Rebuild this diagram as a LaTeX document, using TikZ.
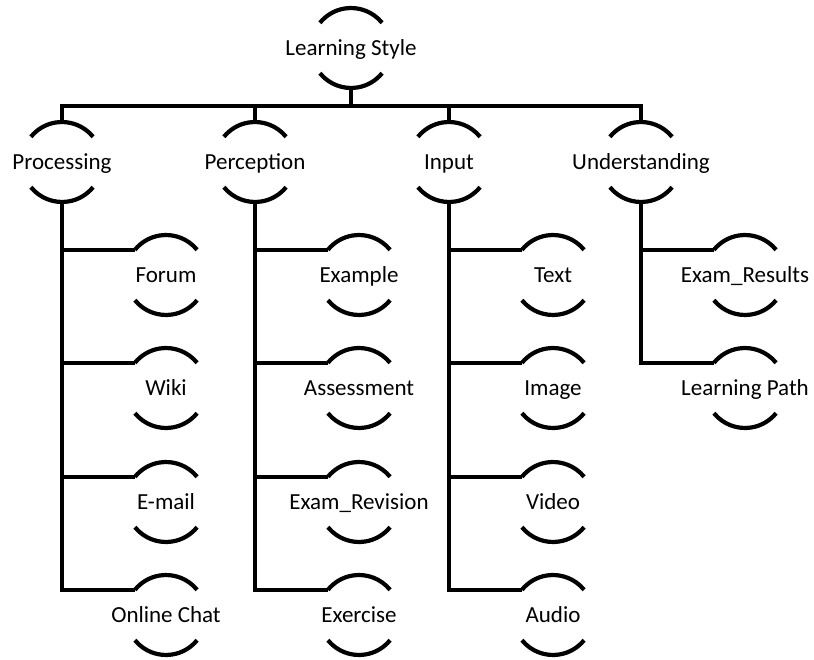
\documentclass[tikz,border=0pt]{standalone}
\usepackage{fontspec}
\setmainfont{Carlito}
\begin{document}
\begin{tikzpicture}[
		x=1pt,y=1pt,
		wire/.style={line width=4.5pt},
		cap arc/.style={line width=4.2pt},
		ls/.style={circle,minimum size=80pt,inner sep=0pt,outer sep=0pt,
			label={[font=\fontsize{23}{28}\selectfont,text height=17pt,text depth=2pt]center:#1}}]
		
		\useasboundingbox (0,0) rectangle (814,659);
		
		\node[ls={Learning Style}] (root) at (351,611) {};
		
		\node[ls=Processing]    (processing)    at ( 62,497) {};
		\node[ls=Perception]    (perception)    at (255,497) {};
		\node[ls=Input]         (input)         at (449,497) {};
		\node[ls=Understanding] (understanding) at (641,497) {};
		
		\node[ls=Forum]         (forum)    at (166,384) {};
		\node[ls=Wiki]          (wiki)     at (166,271) {};
		\node[ls=E-mail]        (email)    at (166,157) {};
		\node[ls=Online Chat]   (chat)     at (166, 44) {};
		
		\node[ls=Example]       (example)  at (359,384) {};
		\node[ls=Assessment]    (assess)   at (359,271) {};
		\node[ls=Exam\_Revision] (revision) at (359,157) {};
		\node[ls=Exercise]      (exercise) at (359, 44) {};
		
		\node[ls=Text]          (text)     at (553,384) {};
		\node[ls=Image]         (image)    at (553,271) {};
		\node[ls=Video]         (video)    at (553,157) {};
		\node[ls=Audio]         (audio)    at (553, 44) {};
		
		\node[ls=Exam\_Results] (results)  at (745,384) {};
		\node[ls=Learning Path] (path)     at (745,271) {};
		
		% the two arcs of every node
		\foreach \n in {root,processing,perception,input,understanding,
			forum,wiki,email,chat,example,assess,revision,exercise,
			text,image,video,audio,results,path}{
			\draw[cap arc] (\n.39) arc (39:141:40pt);
			\draw[cap arc] (\n.219) arc (219:321:40pt);
		}
		
		\coordinate (bar) at (351,553);
		\draw[wire] (root.south) -- (bar);
		\draw[wire] (processing.north) |- (bar) -| (understanding.north);
		\draw[wire] (perception.north) -- (perception.north |- bar);
		\draw[wire] (input.north) -- (input.north |- bar);
		
		\draw[wire] (processing.south) |- (chat.141);
		\draw[wire] (processing |- forum.141) -- (forum.141);
		\draw[wire] (processing |- wiki.141) -- (wiki.141);
		\draw[wire] (processing |- email.141) -- (email.141);
		
		\draw[wire] (perception.south) |- (exercise.141);
		\draw[wire] (perception |- example.141) -- (example.141);
		\draw[wire] (perception |- assess.141) -- (assess.141);
		\draw[wire] (perception |- revision.141) -- (revision.141);
		
		\draw[wire] (input.south) |- (audio.141);
		\draw[wire] (input |- text.141) -- (text.141);
		\draw[wire] (input |- image.141) -- (image.141);
		\draw[wire] (input |- video.141) -- (video.141);
		
		\draw[wire] (understanding.south) |- (path.141);
		\draw[wire] (understanding |- results.141) -- (results.141);
		
\end{tikzpicture}
\end{document}
